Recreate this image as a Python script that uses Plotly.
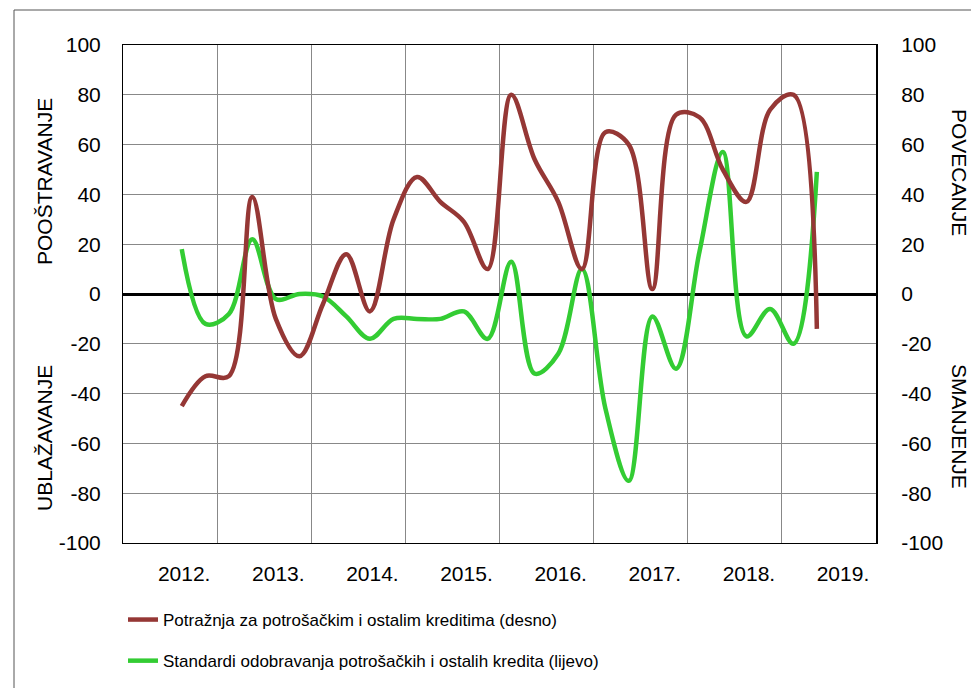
import pandas as pd
import plotly.graph_objects as go

# ---- data -------------------------------------------------------------
quarters = ["2012Q3", "2012Q4",
            "2013Q1", "2013Q2", "2013Q3", "2013Q4",
            "2014Q1", "2014Q2", "2014Q3", "2014Q4",
            "2015Q1", "2015Q2", "2015Q3", "2015Q4",
            "2016Q1", "2016Q2", "2016Q3", "2016Q4",
            "2017Q1", "2017Q2", "2017Q3", "2017Q4",
            "2018Q1", "2018Q2", "2018Q3", "2018Q4",
            "2019Q1", "2019Q2"]

potraznja = [-45, -33, -33, 39, -10, -25, -4, 16, -7, 30,
             47, 37, 29, 10, 80, 54, 37, 10, 65, 60,
             2, 72, 71, 50, 37, 74, 80, -14]

standardi = [18, -12, -8, 22, -2, 0, -1, -9, -18, -10,
             -10, -10, -7, -18, 13, -32, -24, 10, -46, -75,
             -9, -30, 17, 57, -17, -6, -20, 49]

year_range = ["2012-01-01", "2020-01-01"]
y_ticks = [-100, -80, -60, -40, -20, 0, 20, 40, 60, 80, 100]
y_ticktext = ["-100", "-80", "-60", "-40", "-20", "0", "20", "40", "60", "80", "100"]

name_brown = "Potražnja za potrošačkim i ostalim kreditima (desno)"
name_green = "Standardi odobravanja potrošačkih i ostalih kredita (lijevo)"

# mid-quarter dates
periods = [pd.Period(q, freq="Q") for q in quarters]
xdates = [p.start_time + (p.end_time - p.start_time) / 2 for p in periods]

# ---- layout helpers (pixels -> paper) ---------------------------------
W, H = 971, 688
L, R, T, B = 123, 876, 45, 543


def px(x):
    return (x - L) / (R - L)


def py(y):
    return (B - y) / (B - T)


BROWN = "#953735"
GREEN = "#33CC33"
FONT = "Liberation Sans, Arial, sans-serif"

fig = go.Figure()
fig.add_trace(go.Scatter(
    x=xdates, y=potraznja, name=name_brown, yaxis="y2",
    mode="lines", line=dict(color=BROWN, width=4.5, shape="spline", smoothing=1.0),
    legendgroup="a",
))
fig.add_trace(go.Scatter(
    x=xdates, y=standardi, name=name_green, yaxis="y",
    mode="lines", line=dict(color=GREEN, width=4.5, shape="spline", smoothing=1.0),
    legendgroup="b",
))

axis_font = dict(family=FONT, size=21, color="black")

fig.update_layout(
    width=W, height=H,
    margin=dict(l=L, r=W - R, t=T, b=H - B, autoexpand=False),
    paper_bgcolor="white", plot_bgcolor="white",
    font=dict(family=FONT, color="black"),
    xaxis=dict(
        type="date", range=year_range, tick0=year_range[0], dtick="M12",
        ticklabelmode="period", tickformat="%Y.", ticklabelshift=14,
        showgrid=True, gridcolor="#888888", gridwidth=1,
        showline=True, linecolor="black", linewidth=1, mirror=True,
        ticks="", tickfont=axis_font, ticklabelstandoff=12,
        zeroline=False, automargin=False,
    ),
    yaxis=dict(
        range=[-100, 100], tickvals=y_ticks, ticktext=y_ticktext,
        showgrid=True, gridcolor="#888888", gridwidth=1,
        zeroline=True, zerolinecolor="black", zerolinewidth=3,
        showline=True, linecolor="black", linewidth=1,
        ticks="", tickfont=axis_font, ticklabelstandoff=17, automargin=False,
    ),
    yaxis2=dict(
        range=[-100, 100], tickvals=y_ticks, ticktext=y_ticktext,
        overlaying="y", side="right",
        showgrid=False, zeroline=False,
        showline=True, linecolor="black", linewidth=2,
        ticks="", tickfont=axis_font, ticklabelstandoff=19, automargin=False,
    ),
    showlegend=True,
    legend=dict(
        x=px(123), y=py(602), xanchor="left", yanchor="top",
        orientation="v", traceorder="grouped", tracegroupgap=16,
        font=dict(family=FONT, size=17, color="black"),
        bgcolor="rgba(0,0,0,0)", borderwidth=0,
    ),
    annotations=[
        dict(text="POOŠTRAVANJE", x=px(44), y=py(182), xref="paper", yref="paper",
             textangle=-90, showarrow=False, xanchor="center", yanchor="middle",
             font=dict(family=FONT, size=21, color="black")),
        dict(text="UBLAŽAVANJE", x=px(44), y=py(438), xref="paper", yref="paper",
             textangle=-90, showarrow=False, xanchor="center", yanchor="middle",
             font=dict(family=FONT, size=21, color="black")),
        dict(text="POVECANJE", x=px(960), y=py(173), xref="paper", yref="paper",
             textangle=90, showarrow=False, xanchor="center", yanchor="middle",
             font=dict(family=FONT, size=21, color="black")),
        dict(text="SMANJENJE", x=px(960), y=py(427), xref="paper", yref="paper",
             textangle=90, showarrow=False, xanchor="center", yanchor="middle",
             font=dict(family=FONT, size=21, color="black")),
    ],
    shapes=[
        dict(type="rect", xref="paper", yref="paper",
             x0=px(14), x1=px(1000), y0=py(10), y1=py(720),
             line=dict(color="#555555", width=1), fillcolor="rgba(0,0,0,0)",
             layer="below"),
    ],
)

fig.write_html("out.html", config={"displayModeBar": False},
               post_script="document.body.style.margin='0px';")
